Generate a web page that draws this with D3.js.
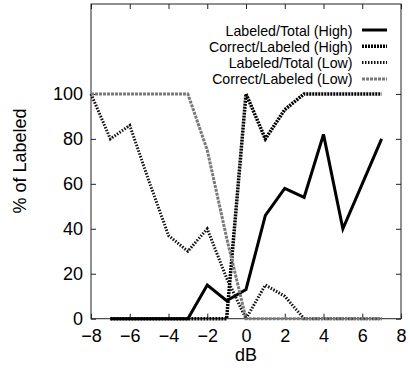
<!DOCTYPE html>
<html>
<head>
<meta charset="utf-8">
<script src="https://cdn.jsdelivr.net/npm/d3@7"></script>
<style>
  html, body { margin: 0; padding: 0; background: #fff; }
  svg { display: block; }
  text { font-family: "Liberation Sans", Arial, Helvetica, sans-serif; fill: #000; }
</style>
</head>
<body>
<svg id="chart" width="410" height="370"></svg>
<script>
// SNR sweep (dB) for each detector setting
const dbLow  = [-8, -7, -6, -5, -4, -3, -2, -1, 0, 1, 2, 3, 4, 5, 6, 7];
const dbHigh = [-7, -6, -5, -4, -3, -2, -1, 0, 1, 2, 3, 4, 5, 6, 7];

// percentages
const labeledTotalHigh   = [0, 0, 0, 0, 0, 15, 8, 13, 46, 58, 54, 82, 40, 60, 80];
const correctLabeledHigh = [0, 0, 0, 0, 0, 0, 0, 100, 80, 93, 100, 100, 100, 100, 100];
const labeledTotalLow    = [100, 80, 86, 61, 37, 30, 40, 18, 0, 15, 10, 0, 0, 0, 0, 0];
const correctLabeledLow  = [100, 100, 100, 100, 100, 100, 75, 36, 0, 0, 0, 0, 0, 0, 0, 0];

const seriesNames = ["Labeled/Total (High)", "Correct/Labeled (High)", "Labeled/Total (Low)", "Correct/Labeled (Low)"];

const xTicks = [-8, -6, -4, -2, 0, 2, 4, 6, 8];
const yTicks = [0, 20, 40, 60, 80, 100];

const series = [
  { name: seriesNames[0], xs: dbHigh, ys: labeledTotalHigh,   stroke: "#000", width: 3,   dash: null },
  { name: seriesNames[1], xs: dbHigh, ys: correctLabeledHigh, stroke: "#000", width: 3.5, dash: "2,1" },
  { name: seriesNames[2], xs: dbLow,  ys: labeledTotalLow,    stroke: "#111", width: 3,   dash: "1.5,1.5" },
  { name: seriesNames[3], xs: dbLow,  ys: correctLabeledLow,  stroke: "#7a7a7a", width: 3, dash: "3,1" }
];

const svg = d3.select("#chart");
const plotLeft = 91, plotRight = 401, plotTop = 4, plotBottom = 318.7;

const x = d3.scaleLinear().domain([-8, 8]).range([plotLeft, plotRight]);
const y = d3.scaleLinear().domain([0, 140]).range([plotBottom, plotTop]);

// axes with inward ticks
const gx = svg.append("g").attr("transform", `translate(0,${plotBottom})`)
  .call(d3.axisBottom(x).tickValues(xTicks).tickSizeInner(-5).tickSizeOuter(0).tickPadding(11));
const gy = svg.append("g").attr("transform", `translate(${plotLeft},0)`)
  .call(d3.axisLeft(y).tickValues(yTicks).tickSizeInner(-5).tickSizeOuter(0).tickPadding(8));
const gxt = svg.append("g").attr("transform", `translate(0,${plotTop})`)
  .call(d3.axisTop(x).tickValues(xTicks).tickSizeInner(-5).tickSizeOuter(0).tickFormat(""));
const gyr = svg.append("g").attr("transform", `translate(${plotRight},0)`)
  .call(d3.axisRight(y).tickValues(yTicks).tickSizeInner(-5).tickSizeOuter(0).tickFormat(""));

[gx, gy, gxt, gyr].forEach(g => {
  g.select(".domain").remove();
  g.selectAll(".tick line").attr("stroke", "#222").attr("stroke-width", 1);
  g.selectAll(".tick text").attr("font-size", 18).attr("fill", "#000");
});

// plot border
svg.append("rect")
  .attr("x", plotLeft).attr("y", plotTop)
  .attr("width", plotRight - plotLeft).attr("height", plotBottom - plotTop)
  .attr("fill", "none").attr("stroke", "#222").attr("stroke-width", 1);

// data lines
const line = d3.line().x(d => x(d[0])).y(d => y(d[1]));
series.forEach(s => {
  const pts = s.xs.map((v, i) => [v, s.ys[i]]);
  svg.append("path")
    .datum(pts)
    .attr("d", line)
    .attr("fill", "none")
    .attr("stroke", s.stroke)
    .attr("stroke-width", s.width)
    .attr("stroke-linejoin", "miter")
    .attr("stroke-dasharray", s.dash);
});

// legend
const legendTextX = 352.5, sampleX0 = 362, sampleX1 = 387;
series.forEach((s, i) => {
  const base = 35.5 + i * 16.3;
  svg.append("text")
    .attr("x", legendTextX).attr("y", base)
    .attr("text-anchor", "end")
    .attr("font-size", 14.2)
    .text(s.name);
  svg.append("line")
    .attr("x1", sampleX0).attr("x2", sampleX1)
    .attr("y1", base - 5.5).attr("y2", base - 5.5)
    .attr("stroke", s.stroke)
    .attr("stroke-width", s.width)
    .attr("stroke-dasharray", s.dash);
});

// axis titles
svg.append("text")
  .attr("x", (plotLeft + plotRight) / 2).attr("y", 361)
  .attr("text-anchor", "middle")
  .attr("font-size", 18)
  .text("dB");

svg.append("text")
  .attr("transform", `translate(26,161) rotate(-90)`)
  .attr("text-anchor", "middle")
  .attr("font-size", 18)
  .text("% of Labeled");
</script>
</body>
</html>
